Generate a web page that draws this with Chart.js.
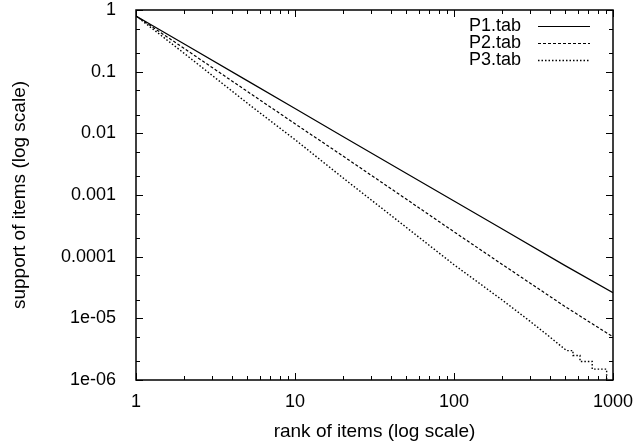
<!DOCTYPE html>
<html lang="en">
<head>
    <script src="https://cdn.jsdelivr.net/npm/chart.js"></script>
    <title>Item support by rank</title>
    <style>
        html, body {
            margin: 0;
            padding: 0;
            background: #fff;
        }
        canvas {
            display: block;
        }
    </style>
</head>
<body>
    <canvas id="supportChart" width="639" height="446"></canvas>

    <script>
        // values
        const ranks = [1, 2, 5, 10, 20, 50, 100, 200, 500, 1000];
        const p1Support = [0.8, 0.283, 0.0716, 0.0253, 0.0089, 0.00226, 0.0008, 0.000283, 0.0000716, 0.000026];
        const p2Support = [0.8, 0.24, 0.048, 0.0143, 0.0043, 0.00086, 0.000253, 0.0000755, 0.0000155, 0.000005];
        const p3Ranks = [1, 2, 5, 10, 20, 50, 100, 200, 300, 400, 510, 560, 560, 620, 620, 740, 740, 912, 912, 1000];
        const p3Support = [0.8, 0.2, 0.031, 0.0079, 0.0019, 0.0003, 0.000074, 0.00002, 0.000009, 0.000005,
                           0.000003, 0.000003, 0.0000025, 0.0000025, 0.000002, 0.000002, 0.0000015, 0.0000015, 0.0000005, 0.0000005];

        const xTickValues = [1, 10, 100, 1000];
        const xTickLabels = ['1', '10', '100', '1000'];
        const yTickValues = [1e-6, 1e-5, 1e-4, 1e-3, 1e-2, 1e-1, 1];
        const yTickLabels = ['1e-06', '1e-05', '0.0001', '0.001', '0.01', '0.1', '1'];
        const xMinor = [2, 3, 4, 5, 6, 7, 8, 9];
        const yMinor = [2, 5];

        const FONT = 'Liberation Sans, Arial, Helvetica, sans-serif';

        function toPoints(xs, ys) {
            return xs.map((x, i) => ({ x: x, y: ys[i] }));
        }

        // gnuplot style box with inward ticks + key in the top right corner
        const gnuplotFrame = {
            id: 'gnuplotFrame',
            afterDatasetsDraw(chart) {
                const ctx = chart.ctx;
                const a = chart.chartArea;
                const xs = chart.scales.x;
                const ys = chart.scales.y;
                ctx.save();
                ctx.strokeStyle = '#000';
                ctx.lineWidth = 1;

                const tickX = (v, len) => {
                    const px = Math.round(xs.getPixelForValue(v)) + 0.5;
                    ctx.beginPath();
                    ctx.moveTo(px, a.bottom); ctx.lineTo(px, a.bottom - len);
                    ctx.moveTo(px, a.top); ctx.lineTo(px, a.top + len);
                    ctx.stroke();
                };
                const tickY = (v, len) => {
                    const py = Math.round(ys.getPixelForValue(v)) + 0.5;
                    ctx.beginPath();
                    ctx.moveTo(a.left, py); ctx.lineTo(a.left + len, py);
                    ctx.moveTo(a.right, py); ctx.lineTo(a.right - len, py);
                    ctx.stroke();
                };

                xTickValues.forEach(v => {
                    tickX(v, 7);
                    if (v < 1000) xMinor.forEach(m => tickX(v * m, 4));
                });
                yTickValues.forEach(v => {
                    tickY(v, 7);
                    if (v < 1) yMinor.forEach(m => tickY(v * m, 4));
                });

                ctx.lineWidth = 1.5;
                ctx.strokeRect(a.left, a.top, a.right - a.left, a.bottom - a.top);

                // key
                ctx.font = '18px ' + FONT;
                ctx.fillStyle = '#000';
                ctx.textAlign = 'right';
                ctx.textBaseline = 'middle';
                chart.data.datasets.forEach((ds, i) => {
                    const y = 26 + i * 17;
                    ctx.fillText(ds.label, 521, y);
                    ctx.lineWidth = ds.borderWidth;
                    ctx.setLineDash(ds.borderDash || []);
                    ctx.beginPath();
                    ctx.moveTo(538, y + 0.5);
                    ctx.lineTo(590, y + 0.5);
                    ctx.stroke();
                    ctx.setLineDash([]);
                });
                ctx.restore();
            }
        };

        const ctx = document.getElementById('supportChart').getContext('2d');

        const supportChart = new Chart(ctx, {
            type: 'line',
            data: {
                datasets: [{
                    label: 'P1.tab',
                    data: toPoints(ranks, p1Support),
                    borderColor: '#000',
                    borderWidth: 1.2,
                    pointRadius: 0,
                    fill: false,
                }, {
                    label: 'P2.tab',
                    data: toPoints(ranks, p2Support),
                    borderColor: '#000',
                    borderWidth: 1.2,
                    borderDash: [3, 2],
                    pointRadius: 0,
                    fill: false,
                }, {
                    label: 'P3.tab',
                    data: toPoints(p3Ranks, p3Support),
                    borderColor: '#000',
                    borderWidth: 1.4,
                    borderDash: [1.5, 2],
                    pointRadius: 0,
                    fill: false,
                }]
            },
            options: {
                responsive: false,
                devicePixelRatio: 1,
                animation: false,
                layout: {
                    padding: { top: 10, right: 26, left: 0, bottom: 0 }
                },
                plugins: {
                    legend: { display: false },
                    tooltip: { enabled: false }
                },
                scales: {
                    x: {
                        type: 'logarithmic',
                        position: 'bottom',
                        min: 1,
                        max: 1000,
                        grid: { display: false },
                        border: { display: false },
                        afterBuildTicks: s => { s.ticks = xTickValues.map(v => ({ value: v })); },
                        afterFit: s => {
                            s.height = 66;
                            s.paddingLeft = 0;
                            s.paddingRight = 0;
                        },
                        ticks: {
                            autoSkip: false,
                            maxRotation: 0,
                            padding: 3,
                            color: '#000',
                            font: { family: FONT, size: 18 },
                            callback: v => xTickLabels[xTickValues.indexOf(v)] ?? ''
                        },
                        title: {
                            display: true,
                            text: 'rank of items (log scale)',
                            color: '#000',
                            font: { family: FONT, size: 19 },
                            padding: { top: 0, bottom: 3 }
                        }
                    },
                    y: {
                        type: 'logarithmic',
                        position: 'left',
                        min: 1e-6,
                        max: 1,
                        grid: { display: false },
                        border: { display: false },
                        afterBuildTicks: s => { s.ticks = yTickValues.map(v => ({ value: v })); },
                        afterFit: s => {
                            s.width = 136;
                            s.paddingTop = 0;
                            s.paddingBottom = 0;
                        },
                        ticks: {
                            autoSkip: false,
                            padding: 12,
                            color: '#000',
                            font: { family: FONT, size: 18 },
                            callback: v => {
                                const i = yTickValues.findIndex(t => Math.abs(Math.log10(t) - Math.log10(v)) < 1e-6);
                                return i >= 0 ? yTickLabels[i] : '';
                            }
                        },
                        title: {
                            display: true,
                            text: 'support of items (log scale)',
                            color: '#000',
                            font: { family: FONT, size: 19 },
                            padding: { top: 8, bottom: 0 }
                        }
                    }
                }
            },
            plugins: [gnuplotFrame]
        });
    </script>
</body>
</html>
